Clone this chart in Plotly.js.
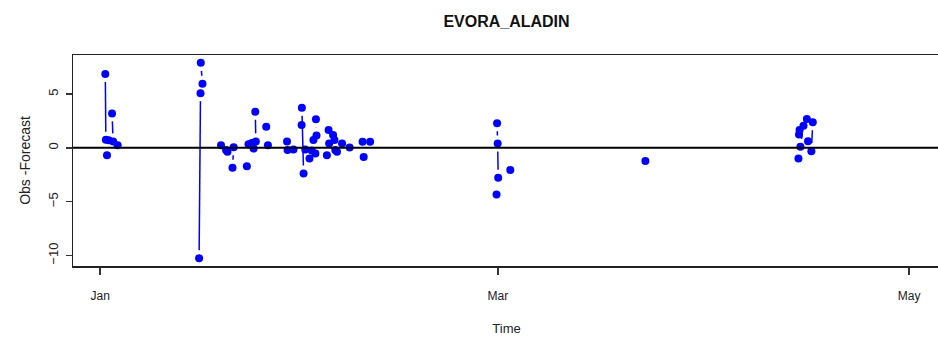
<!DOCTYPE html>
<html>
<head>
<meta charset="utf-8">
<script src="https://cdn.plot.ly/plotly-3.0.1.min.js"></script>
<style>
  html, body { margin: 0; padding: 0; overflow: hidden; background: #fff; }
  #plot { width: 950px; height: 341px; }
</style>
</head>
<body>
<div id="plot"></div>
<script>
// Observation times (null = break in the series, no line drawn across it)
const obsTime = [
  '2017-01-01 18:00', '2017-01-01 20:00', null,
  '2017-01-02 00:00', null,
  '2017-01-02 06:00', null,
  '2017-01-02 18:00', '2017-01-02 22:00', null,
  '2017-01-03 14:00', null,
  '2017-01-15 16:00', '2017-01-15 21:00', null,
  '2017-01-15 22:00', '2017-01-16 04:00', null,
  '2017-01-18 22:00', null,
  '2017-01-19 16:00', null,
  '2017-01-19 21:00', null,
  '2017-01-20 15:00', '2017-01-20 19:00', null,
  '2017-01-22 18:00', null,
  '2017-01-23 00:00', null,
  '2017-01-23 12:00', null,
  '2017-01-23 18:00', null,
  '2017-01-24 00:00', '2017-01-24 02:00', null,
  '2017-01-25 15:00', null,
  '2017-01-25 21:00', null,
  '2017-01-28 17:00', null,
  '2017-01-28 19:00', null,
  '2017-01-29 16:00', null,
  '2017-01-30 21:00', null,
  '2017-01-30 22:00', '2017-01-31 04:00', null,
  '2017-01-31 10:00', null,
  '2017-02-01 01:00', null,
  '2017-02-01 09:00', null,
  '2017-02-01 15:00', null,
  '2017-02-01 22:00', null,
  '2017-02-02 00:00', '2017-02-02 02:00', null,
  '2017-02-03 15:00', null,
  '2017-02-03 21:00', null,
  '2017-02-03 23:00', null,
  '2017-02-04 13:00', null,
  '2017-02-04 18:00', null,
  '2017-02-04 21:00', null,
  '2017-02-05 03:00', null,
  '2017-02-05 21:00', null,
  '2017-02-07 00:00', null,
  '2017-02-08 22:00', null,
  '2017-02-09 02:00', null,
  '2017-02-10 01:00', null,
  '2017-02-28 19:00', null,
  '2017-02-28 21:00', '2017-02-28 23:00', '2017-03-01 01:00', null,
  '2017-03-02 20:00', null,
  '2017-03-22 21:00', null,
  '2017-04-14 14:00', null,
  '2017-04-14 16:00', null,
  '2017-04-14 18:00', null,
  '2017-04-14 21:00', '2017-04-15 08:00', null,
  '2017-04-15 20:00', null,
  '2017-04-16 00:00', null,
  '2017-04-16 12:00', '2017-04-16 17:00'
];

// Observation minus forecast
const obsMinusForecast = [
  6.86, 0.75, null,
  -0.68, null,
  0.70, null,
  3.20, 0.60, null,
  0.25, null,
  -10.24, 5.08, null,
  7.89, 5.95, null,
  0.25, null,
  -0.20, null,
  -0.37, null,
  -1.85, 0.05, null,
  -1.71, null,
  0.34, null,
  0.45, null,
  -0.06, null,
  3.36, 0.60, null,
  1.96, null,
  0.25, null,
  0.60, null,
  -0.20, null,
  -0.15, null,
  2.12, null,
  3.72, -2.39, null,
  -0.15, null,
  -0.99, null,
  -0.25, null,
  0.72, null,
  -0.52, null,
  2.65, 1.15, null,
  -0.68, null,
  1.65, null,
  0.41, null,
  1.19, null,
  0.72, null,
  -0.20, null,
  -0.37, null,
  0.41, null,
  0.04, null,
  0.56, null,
  -0.84, null,
  0.56, null,
  -4.33, null,
  2.28, 0.41, -2.77, null,
  -2.05, null,
  -1.21, null,
  -0.99, null,
  1.25, null,
  1.65, null,
  0.09, 2.06, null,
  2.68, null,
  0.62, null,
  -0.31, 2.37
];

const xTickVals = ['2017-01-01', '2017-03-01', '2017-05-01'];
const xTickText = ['Jan', 'Mar', 'May'];
const yTickVals = [-10, -5, 0, 5];

// Figure geometry
const W = 950, H = 341;
const M = { l: 73, r: 10, t: 55, b: 75 };
const xRange = ['2016-12-27 23:00', '2017-05-05 14:00'];
const yRange = [-10.97, 8.62];
const GAP = 8; // px left blank around each point on the connecting lines

function toMs(s) { return Date.parse(s.replace(' ', 'T') + ':00Z'); }

// Connecting segments, shortened at both ends so they stop short of the points
const xMin = toMs(xRange[0]), xMax = toMs(xRange[1]);
const pxPerMs = (W - M.l - M.r) / (xMax - xMin);
const pxPerUnit = (H - M.t - M.b) / (yRange[1] - yRange[0]);
const segX = [], segY = [];
for (let i = 0; i < obsTime.length - 1; i++) {
  const v0 = obsMinusForecast[i], v1 = obsMinusForecast[i + 1];
  if (v0 === null || v1 === null) continue;
  const t0 = toMs(obsTime[i]), t1 = toMs(obsTime[i + 1]);
  const dx = (t1 - t0) * pxPerMs, dy = (v1 - v0) * pxPerUnit;
  const len = Math.hypot(dx, dy);
  if (len <= 2 * GAP) continue;
  const f = GAP / len;
  segX.push(t0 + (t1 - t0) * f, t1 - (t1 - t0) * f, null);
  segY.push(v0 + (v1 - v0) * f, v1 - (v1 - v0) * f, null);
}

const lineTrace = {
  x: segX, y: segY, type: 'scatter', mode: 'lines',
  line: { color: '#0000ff', width: 1.5 },
  hoverinfo: 'skip', showlegend: false
};
const pointTrace = {
  x: obsTime, y: obsMinusForecast, type: 'scatter', mode: 'markers',
  marker: { color: '#0000ff', size: 8, line: { width: 0 } },
  showlegend: false
};

const FONT = 'Liberation Sans, Arial, sans-serif';

const layout = {
  width: W, height: H,
  margin: M,
  paper_bgcolor: '#fff', plot_bgcolor: '#fff',
  showlegend: false,
  title: {
    text: '<b>EVORA_ALADIN</b>',
    font: { family: FONT, size: 16, color: '#111' },
    xref: 'paper', x: 0.5, xanchor: 'center',
    yref: 'container', y: 1 - 21 / H, yanchor: 'middle'
  },
  xaxis: {
    type: 'date', range: xRange,
    tickmode: 'array', tickvals: xTickVals, ticktext: xTickText,
    ticks: 'outside', ticklen: 7, tickwidth: 1.5, tickcolor: '#333',
    tickfont: { family: FONT, size: 12, color: '#222' },
    ticklabelstandoff: 11,
    showline: true, mirror: true, linecolor: '#222', linewidth: 1.5,
    showgrid: false, zeroline: false,
    title: { text: 'Time', font: { family: FONT, size: 13, color: '#222' }, standoff: 22 }
  },
  yaxis: {
    range: yRange,
    tickmode: 'array', tickvals: yTickVals,
    ticks: 'outside', ticklen: 6, tickwidth: 1.5, tickcolor: '#333',
    tickangle: -90, tickfont: { family: FONT, size: 13, color: '#222' },
    ticklabelstandoff: 2,
    showline: true, mirror: true, linecolor: '#222', linewidth: 1.5,
    showgrid: false, zeroline: false,
    title: { text: 'Obs -Forecast', font: { family: FONT, size: 14, color: '#222' }, standoff: 12 }
  },
  shapes: [{
    type: 'line', xref: 'paper', x0: 0, x1: 1, yref: 'y', y0: 0, y1: 0,
    line: { color: '#000', width: 2 }, layer: 'above'
  }]
};

Plotly.newPlot('plot', [lineTrace, pointTrace], layout, { displayModeBar: false, staticPlot: true });
</script>
</body>
</html>
